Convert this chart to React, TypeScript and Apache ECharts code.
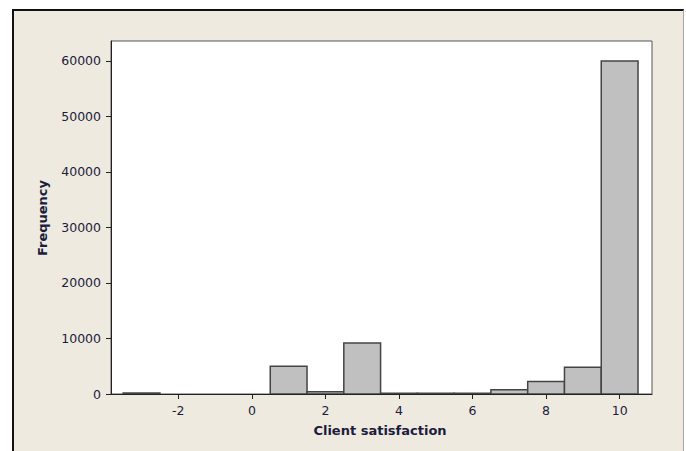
import React, { useEffect, useRef } from "react";
import * as echarts from "echarts";

// Histogram bins (bin centres) and their frequencies
const binCenters: number[] = [-3, 1, 2, 3, 4, 5, 6, 7, 8, 9, 10];
const frequencies: number[] = [180, 5000, 400, 9200, 150, 120, 150, 780, 2250, 4800, 60000];
const binWidth = 1;

// Axis ticks
const xTickValues: number[] = [-2, 0, 2, 4, 6, 8, 10];
const yTickValues: number[] = [0, 10000, 20000, 30000, 40000, 50000, 60000];

const xTitle = "Client satisfaction";
const yTitle = "Frequency";

const TEXT = "#1c1c3c";
const FONT = "DejaVu Sans";

export default function App() {
  const ref = useRef<HTMLDivElement>(null);

  useEffect(() => {
    document.body.style.margin = "0";
    if (!ref.current) return;
    const chart = echarts.init(ref.current, null, { renderer: "svg" });
    const data = binCenters.map((c, i) => [c, frequencies[i]]);
    chart.setOption({
      animation: false,
      backgroundColor: "transparent",
      grid: {
        left: 111,
        top: 41,
        right: 34,
        bottom: 57,
        show: true,
        backgroundColor: "#ffffff",
        borderColor: "#555555",
        borderWidth: 1,
      },
      xAxis: {
        type: "value",
        min: -3.83,
        max: 10.88,
        splitLine: { show: false },
        axisLine: { show: true, onZero: false, lineStyle: { color: "#222222", width: 1 } },
        axisTick: {
          show: true,
          inside: false,
          length: 5,
          customValues: xTickValues,
          lineStyle: { color: "#222222" },
        },
        axisLabel: {
          customValues: xTickValues,
          margin: 10,
          color: TEXT,
          fontFamily: FONT,
          fontSize: 12.5,
          formatter: (v: number) => String(v),
        },
      },
      yAxis: {
        type: "value",
        min: 0,
        max: 63600,
        splitLine: { show: false },
        axisLine: { show: true, onZero: false, lineStyle: { color: "#222222", width: 1 } },
        axisTick: {
          show: true,
          inside: false,
          length: 5,
          customValues: yTickValues,
          lineStyle: { color: "#222222" },
        },
        axisLabel: {
          customValues: yTickValues,
          margin: 10,
          color: TEXT,
          fontFamily: FONT,
          fontSize: 12.5,
          formatter: (v: number) => String(v),
        },
      },
      graphic: [
        {
          type: "text",
          x: 380,
          y: 430,
          style: {
            text: xTitle,
            fill: TEXT,
            font: `bold 13px "${FONT}"`,
            align: "center",
            verticalAlign: "middle",
          },
        },
        {
          type: "text",
          x: 42,
          y: 218,
          rotation: Math.PI / 2,
          style: {
            text: yTitle,
            fill: TEXT,
            font: `bold 13px "${FONT}"`,
            align: "center",
            verticalAlign: "middle",
          },
        },
      ],
      series: [
        {
          type: "custom",
          data,
          clip: true,
          renderItem: (params: any, api: any) => {
            const x = api.value(0);
            const y = api.value(1);
            const p0 = api.coord([x - binWidth / 2, y]);
            const p1 = api.coord([x + binWidth / 2, 0]);
            return {
              type: "rect",
              shape: { x: p0[0], y: p0[1], width: p1[0] - p0[0], height: p1[1] - p0[1] },
              style: { fill: "#c0c0c0", stroke: "#444444", lineWidth: 1.5 },
            };
          },
        },
      ],
    });
    return () => chart.dispose();
  }, []);

  return (
    <div style={{ position: "absolute", left: 0, top: 0, width: 686, height: 451, background: "#ffffff" }}>
      <div
        style={{
          position: "absolute",
          left: 12,
          top: 9,
          width: 669,
          height: 442,
          background: "#eeeae0",
          borderLeft: "2px solid #111111",
          borderTop: "2px solid #111111",
          borderRight: "1px solid #a8a8a0",
        }}
      />
      <div ref={ref} style={{ position: "absolute", left: 0, top: 0, width: 686, height: 451 }} />
    </div>
  );
}
